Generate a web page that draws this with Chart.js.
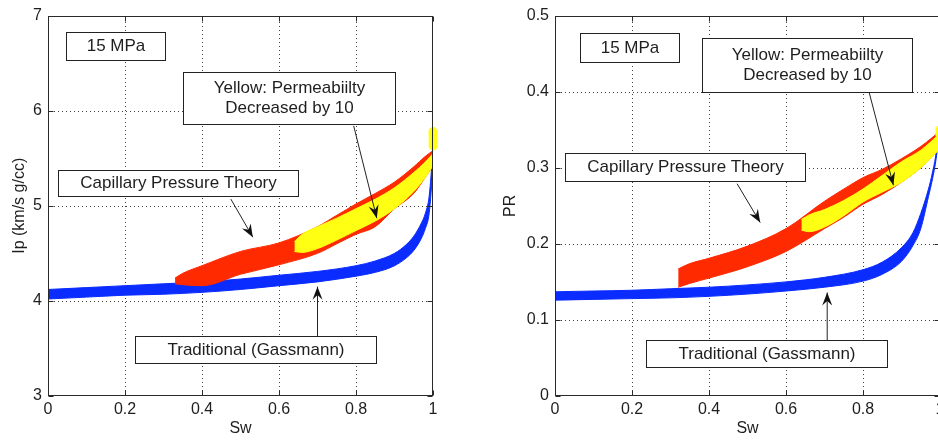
<!DOCTYPE html>
<html lang="en">
<head>
<meta charset="UTF-8">
<title>Ip and PR vs Sw at 15 MPa</title>
<script src="https://cdn.jsdelivr.net/npm/chart.js"></script>
<style>
  html, body { margin: 0; padding: 0; background: #fff; overflow: hidden; }
  #wrap { position: relative; width: 938px; height: 444px; overflow: hidden; }
  #ipChart { position: absolute; left: 0; top: 0; }
  #prChart { position: absolute; left: 470px; top: 0; }
</style>
</head>
<body>
<div id="wrap">
  <canvas id="ipChart" width="470" height="444"></canvas>
  <canvas id="prChart" width="500" height="444"></canvas>
</div>
<script>
// Traditional (Gassmann) band, edges of the blue cloud
const swBlue   = [0, 0.1, 0.2, 0.3, 0.4, 0.5, 0.6, 0.7, 0.8, 0.85, 0.9, 0.93, 0.95, 0.97, 0.98, 0.99, 1.0];
const ipBlueHi = [4.12, 4.14, 4.16, 4.18, 4.20, 4.23, 4.27, 4.31, 4.37, 4.42, 4.50, 4.59, 4.68, 4.82, 4.92, 5.10, 5.58];
const ipBlueLo = [4.02, 4.04, 4.06, 4.07, 4.09, 4.12, 4.16, 4.20, 4.26, 4.30, 4.37, 4.45, 4.53, 4.66, 4.76, 4.92, 5.40];
const prBlueHi = [0.137, 0.138, 0.139, 0.141, 0.143, 0.146, 0.150, 0.156, 0.166, 0.176, 0.195, 0.215, 0.240, 0.272, 0.293, 0.320, 0.370];
const prBlueLo = [0.126, 0.127, 0.128, 0.129, 0.131, 0.134, 0.138, 0.143, 0.151, 0.160, 0.177, 0.198, 0.220, 0.262, 0.284, 0.312, 0.355];

// Capillary pressure theory (red)
const swRed   = [0.33, 0.35, 0.4, 0.5, 0.6, 0.7, 0.75, 0.8, 0.85, 0.9, 0.95, 0.98, 1.0];
const ipRedHi = [4.24, 4.29, 4.37, 4.52, 4.61, 4.78, 4.90, 5.02, 5.13, 5.25, 5.41, 5.52, 5.58];
const ipRedLo = [4.18, 4.17, 4.16, 4.28, 4.38, 4.50, 4.60, 4.70, 4.78, 4.97, 5.13, 5.30, 5.42];
const swRedR  = [0.32, 0.35, 0.4, 0.5, 0.6, 0.7, 0.75, 0.8, 0.85, 0.9, 0.95, 1.0];
const prRedHi = [0.167, 0.174, 0.181, 0.197, 0.220, 0.256, 0.272, 0.287, 0.298, 0.312, 0.328, 0.348];
const prRedLo = [0.143, 0.148, 0.155, 0.170, 0.190, 0.220, 0.235, 0.252, 0.265, 0.281, 0.300, 0.325];

// Permeability decreased by 10 (yellow)
const swYel   = [0.64, 0.66, 0.7, 0.75, 0.8, 0.85, 0.9, 0.95, 0.98, 1.0];
const ipYelHi = [4.62, 4.70, 4.78, 4.87, 4.97, 5.07, 5.19, 5.35, 5.46, 5.55];
const ipYelLo = [4.52, 4.51, 4.55, 4.64, 4.74, 4.84, 4.97, 5.15, 5.30, 5.42];
const swYelR  = [0.64, 0.66, 0.7, 0.75, 0.8, 0.85, 0.9, 0.95, 1.0];
const prYelHi = [0.232, 0.238, 0.245, 0.257, 0.272, 0.290, 0.308, 0.323, 0.345];
const prYelLo = [0.218, 0.216, 0.222, 0.237, 0.255, 0.268, 0.281, 0.300, 0.325];

// fully saturated end points
const swCap = [1, 1, 1, 1, 1];
const ipCap = [5.63, 5.67, 5.71, 5.75, 5.78];
const prCap = [0.332, 0.337, 0.342, 0.346, 0.350];

const BLUE = '#0a2cff', RED = '#ff2a00', YELLOW = '#ffff14';
const FONT = '"Liberation Sans", Arial, Helvetica, sans-serif';
const INK = '#1e1e1e';

// text boxes and arrows, in data units
const notesIp = {
  boxes: [
    { lines: ['15 MPa'], x0: 0.046, x1: 0.304, y0: 6.83, y1: 6.53 },
    { lines: ['Yellow: Permeabiilty', 'Decreased by 10'], x0: 0.35, x1: 0.90, y0: 6.41, y1: 5.86 },
    { lines: ['Capillary Pressure Theory'], x0: 0.025, x1: 0.649, y0: 5.38, y1: 5.10 },
    { lines: ['Traditional (Gassmann)'], x0: 0.226, x1: 0.852, y0: 3.63, y1: 3.35 }
  ],
  arrows: [
    { from: [0.794, 5.84], to: [0.854, 4.87] },
    { from: [0.475, 5.07], to: [0.532, 4.67] },
    { from: [0.700, 3.63], to: [0.700, 4.15] }
  ]
};
const notesPr = {
  boxes: [
    { lines: ['15 MPa'], x0: 0.065, x1: 0.322, y0: 0.477, y1: 0.439 },
    { lines: ['Yellow: Permeabiilty', 'Decreased by 10'], x0: 0.382, x1: 0.928, y0: 0.471, y1: 0.400 },
    { lines: ['Capillary Pressure Theory'], x0: 0.026, x1: 0.650, y0: 0.319, y1: 0.282 },
    { lines: ['Traditional (Gassmann)'], x0: 0.237, x1: 0.863, y0: 0.073, y1: 0.038 }
  ],
  arrows: [
    { from: [0.816, 0.399], to: [0.879, 0.277] },
    { from: [0.473, 0.279], to: [0.533, 0.228] },
    { from: [0.707, 0.073], to: [0.707, 0.136] }
  ]
};

const pts = (xs, ys) => xs.map((x, i) => ({ x: x, y: ys[i] }));

function band(xs, lo, hi, color, order) {
  const base = {
    borderColor: color, borderWidth: 1, pointRadius: 0,
    cubicInterpolationMode: 'monotone', order: order
  };
  return [
    Object.assign({ data: pts(xs, lo), fill: false }, base),
    Object.assign({ data: pts(xs, hi), fill: '-1', backgroundColor: color }, base)
  ];
}

function arrowHead(ctx, x0, y0, x1, y1) {
  const a = Math.atan2(y1 - y0, x1 - x0);
  const L = 13, W = 5;
  const ux = Math.cos(a), uy = Math.sin(a), nx = -uy, ny = ux;
  ctx.beginPath();
  ctx.moveTo(x1, y1);
  ctx.lineTo(x1 - L * ux + W * nx, y1 - L * uy + W * ny);
  ctx.lineTo(x1 - 0.65 * L * ux, y1 - 0.65 * L * uy);
  ctx.lineTo(x1 - L * ux - W * nx, y1 - L * uy - W * ny);
  ctx.closePath();
  ctx.fill();
}

// dotted grid, axes box, inward ticks, text boxes and arrows
const framePlugin = {
  id: 'frame',
  beforeDatasetsDraw(chart) {
    const { ctx, chartArea: ca, scales: { x, y } } = chart;
    const l = Math.round(ca.left), r = Math.round(ca.right);
    const t = Math.round(ca.top), b = Math.round(ca.bottom);
    ctx.save();
    ctx.fillStyle = '#404040';
    x.ticks.forEach(tk => {
      const px = Math.round(x.getPixelForValue(tk.value));
      if (px <= l + 1 || px >= r - 1) return;
      for (let yy = t + 2; yy < b; yy += 4) ctx.fillRect(px, yy, 1, 1);
    });
    y.ticks.forEach(tk => {
      const py = Math.round(y.getPixelForValue(tk.value));
      if (py <= t + 1 || py >= b - 1) return;
      for (let xx = l + 2; xx < r; xx += 4) ctx.fillRect(xx, py, 1, 1);
    });
    ctx.restore();
  },
  afterDatasetsDraw(chart, args, opts) {
    const { ctx, chartArea: ca, scales: { x, y } } = chart;
    ctx.save();
    ctx.strokeStyle = '#2a2a2a';
    ctx.lineWidth = 1;
    const l = Math.round(ca.left) + 0.5, r = Math.round(ca.right) - 0.5;
    const t = Math.round(ca.top) + 0.5, b = Math.round(ca.bottom) - 0.5;
    ctx.beginPath();
    x.ticks.forEach(tk => {
      const px = Math.round(x.getPixelForValue(tk.value)) + 0.5;
      ctx.moveTo(px, b); ctx.lineTo(px, b - 5);
      ctx.moveTo(px, t); ctx.lineTo(px, t + 5);
    });
    y.ticks.forEach(tk => {
      const py = Math.round(y.getPixelForValue(tk.value)) + 0.5;
      ctx.moveTo(l, py); ctx.lineTo(l + 5, py);
      ctx.moveTo(r, py); ctx.lineTo(r - 5, py);
    });
    ctx.stroke();
    ctx.strokeRect(l, t, r - l, b - t);

    const notes = opts.notes;
    ctx.font = '17px ' + FONT;
    ctx.textAlign = 'center';
    ctx.textBaseline = 'middle';
    notes.boxes.forEach(bx => {
      const x0 = Math.round(x.getPixelForValue(bx.x0)) + 0.5;
      const x1 = Math.round(x.getPixelForValue(bx.x1)) + 0.5;
      const y0 = Math.round(y.getPixelForValue(bx.y0)) + 0.5;
      const y1 = Math.round(y.getPixelForValue(bx.y1)) + 0.5;
      ctx.fillStyle = '#fff';
      ctx.fillRect(x0, y0, x1 - x0, y1 - y0);
      ctx.strokeStyle = '#222';
      ctx.strokeRect(x0, y0, x1 - x0, y1 - y0);
      ctx.fillStyle = INK;
      const cx = (x0 + x1) / 2, cy = (y0 + y1) / 2;
      const gap = 20;
      bx.lines.forEach((s, i) => {
        ctx.fillText(s, cx, cy + (i - (bx.lines.length - 1) / 2) * gap);
      });
    });
    ctx.strokeStyle = '#222';
    ctx.fillStyle = '#111';
    notes.arrows.forEach(ar => {
      const x0 = x.getPixelForValue(ar.from[0]), y0 = y.getPixelForValue(ar.from[1]);
      const x1 = x.getPixelForValue(ar.to[0]), y1 = y.getPixelForValue(ar.to[1]);
      ctx.beginPath();
      ctx.moveTo(x0, y0);
      ctx.lineTo(x1, y1);
      ctx.stroke();
      arrowHead(ctx, x0, y0, x1, y1);
    });
    ctx.restore();
  }
};

function fmt(v) { return String(+v.toFixed(1)); }

function makeChart(id, cfg) {
  const datasets = []
    .concat(band(swBlue, cfg.blueLo, cfg.blueHi, BLUE, 2))
    .concat(band(cfg.swRed, cfg.redLo, cfg.redHi, RED, 1))
    .concat(band(cfg.swYel, cfg.yelLo, cfg.yelHi, YELLOW, 0))
    .concat([{
      data: pts(swCap, cfg.cap), showLine: false, order: 0, clip: false,
      pointRadius: 4.5, pointBackgroundColor: YELLOW, pointBorderColor: YELLOW, pointBorderWidth: 0
    }]);
  return new Chart(document.getElementById(id), {
    type: 'line',
    data: { datasets: datasets },
    plugins: [framePlugin],
    options: {
      responsive: false,
      animation: false,
      devicePixelRatio: 1,
      layout: { padding: { top: 15, right: cfg.padRight, left: 0, bottom: 0 } },
      plugins: {
        legend: { display: false },
        tooltip: { enabled: false },
        frame: { notes: cfg.notes }
      },
      scales: {
        x: {
          type: 'linear', min: 0, max: 1,
          afterFit: s => { s.height = 48; },
          ticks: { stepSize: 0.2, padding: 4, color: INK, font: { family: FONT, size: 16 }, callback: fmt, maxRotation: 0 },
          grid: { display: false, drawTicks: false },
          border: { display: false },
          title: { display: true, text: 'Sw', color: INK, font: { family: FONT, size: 16 }, padding: { top: 0, bottom: 6 } }
        },
        y: {
          min: cfg.yMin, max: cfg.yMax,
          afterFit: s => { s.width = cfg.yWidth; },
          ticks: { stepSize: cfg.yStep, padding: 6, color: INK, font: { family: FONT, size: 16 }, callback: fmt },
          grid: { display: false, drawTicks: false },
          border: { display: false },
          title: { display: true, text: cfg.yTitle, color: INK, font: { family: FONT, size: 16 }, padding: { top: cfg.titlePad, bottom: 0 } }
        }
      }
    }
  });
}

makeChart('ipChart', {
  blueLo: ipBlueLo, blueHi: ipBlueHi,
  swRed: swRed, redLo: ipRedLo, redHi: ipRedHi,
  swYel: swYel, yelLo: ipYelLo, yelHi: ipYelHi,
  cap: ipCap, notes: notesIp,
  yMin: 3, yMax: 7, yStep: 1, yTitle: 'Ip (km/s g/cc)',
  yWidth: 48, padRight: 37, titlePad: 10
});

makeChart('prChart', {
  blueLo: prBlueLo, blueHi: prBlueHi,
  swRed: swRedR, redLo: prRedLo, redHi: prRedHi,
  swYel: swYelR, yelLo: prYelLo, yelHi: prYelHi,
  cap: prCap, notes: notesPr,
  yMin: 0, yMax: 0.5, yStep: 0.1, yTitle: 'PR',
  yWidth: 85, padRight: 30, titlePad: 31
});
</script>
</body>
</html>
